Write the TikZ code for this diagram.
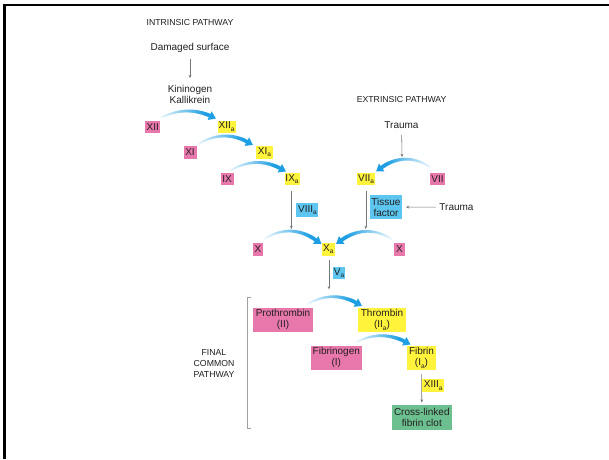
\documentclass[tikz,border=0pt]{standalone}
\usepackage{fontspec}
\setmainfont{Liberation Sans}
\usetikzlibrary{arrows.meta,calc}
\definecolor{pinkbox}{HTML}{E878AC}
\definecolor{yelbox}{HTML}{FFF33B}
\definecolor{bluebox}{HTML}{5CC6F0}
\definecolor{greenbox}{HTML}{6CC08F}
\definecolor{flowblue}{HTML}{1E9FE3}
\definecolor{txt}{HTML}{231F20}
\definecolor{thingray}{HTML}{777777}
\definecolor{brack}{HTML}{A0A0A0}
\newcommand\sba{\raisebox{-0.45ex}{\fontsize{6.5}{6}\selectfont a}}
\newcommand\flowarrow[3]{%
  \foreach \i in {0,...,19}{%
    \pgfmathsetmacro\ta{\i/20*0.84}%
    \pgfmathsetmacro\tb{(\i+1)/20*0.84}%
    \pgfmathsetmacro\ha{-4*\ta*(1-\ta)*#3}%
    \pgfmathsetmacro\hb{-4*\tb*(1-\tb)*#3}%
    \pgfmathsetmacro\cc{6+94*\tb/0.84}%
    \pgfmathsetmacro\lw{1.6+2.1*\tb/0.84}%
    \draw[line width=\lw pt, draw=flowblue!\cc!white, line cap=round]
      ($(#1)!\ta!(#2)+(0,\ha)$) -- ($(#1)!\tb!(#2)+(0,\hb)$);
  }%
  \pgfmathsetmacro\hc{-4*0.84*0.16*#3}%
  \draw[line width=3.7pt, flowblue, -{Triangle[length=7pt,width=9pt]}]
    ($(#1)!0.84!(#2)+(0,\hc)$) -- (#2);
}
\tikzset{
  fnt/.style={font=\fontsize{10}{11}\selectfont},
  capfnt/.style={font=\fontsize{8.7}{11}\selectfont},
  box/.style={fnt, inner sep=0pt, text=txt, align=center},
  pbox/.style={box, fill=pinkbox},
  ybox/.style={box, fill=yelbox},
  bbox/.style={box, fill=bluebox},
  gbox/.style={box, fill=greenbox},
  lbl/.style={fnt, inner sep=0pt, text=txt, align=center},
  caplbl/.style={capfnt, inner sep=0pt, text=txt, align=center},
  thinarrow/.style={draw=thingray, line width=0.55pt, -{Stealth[length=3.2pt,width=2.8pt]}},
}
\begin{document}
\begin{tikzpicture}[x=1pt,y=-1pt]
\useasboundingbox (0,0) rectangle (609,459);
\fill[white] (0,0) rectangle (609,459);
% frame
\draw[line width=2.2pt, black] (4.5,459) -- (4.5,5.3) -- (609,5.3);

% labels
\node[caplbl] (intr) at (190,22.7) {INTRINSIC PATHWAY};
\node[lbl] (dmg) at (190,48.3) {Damaged surface};
\node[lbl] (kin) at (190,94) {Kininogen\\Kallikrein};
\node[caplbl] (extr) at (401.6,99.3) {EXTRINSIC PATHWAY};
\node[lbl] (trA) at (401.5,125) {Trauma};
\node[lbl] (trB) at (456.5,207.3) {Trauma};
\node[caplbl] (fcp) at (214,363) {FINAL\\COMMON\\PATHWAY};

% intrinsic boxes
\node[pbox, minimum width=15pt, minimum height=12pt] (XII) at (152.7,126.7) {XII};
\node[ybox, minimum width=18pt, minimum height=12pt] (XIIa) at (226.6,126.7) {XII\sba};
\node[pbox, minimum width=13pt, minimum height=12.6pt] (XI) at (190,152.3) {XI};
\node[ybox, minimum width=16.6pt, minimum height=12.6pt] (XIa) at (264.5,152.3) {XI\sba};
\node[pbox, minimum width=13pt, minimum height=12.6pt] (IX) at (227,179) {IX};
\node[ybox, minimum width=15pt, minimum height=12.6pt] (IXa) at (292,179) {IX\sba};
\node[bbox, minimum width=22pt, minimum height=13.4pt] (VIIIa) at (307.4,210) {VIII\sba};

% extrinsic boxes
\node[ybox, minimum width=18pt, minimum height=12.6pt] (VIIa) at (366,179) {VII\sba};
\node[pbox, minimum width=14.7pt, minimum height=12.6pt] (VII) at (437.5,179) {VII};
\node[bbox, minimum width=32.6pt, minimum height=24.3pt] (TF) at (386,207) {Tissue\\factor};

% X row
\node[pbox, minimum width=10.3pt, minimum height=13pt] (Xl) at (258,249) {X};
\node[ybox, minimum width=13.4pt, minimum height=13pt] (Xa) at (328.3,249) {X\sba};
\node[pbox, minimum width=10.7pt, minimum height=13pt] (Xr) at (399.4,249) {X};
\node[bbox, minimum width=12.8pt, minimum height=12.3pt] (Va) at (339,273) {V\sba};

% common pathway
\node[pbox, minimum width=60pt, minimum height=24.3pt] (PT) at (283,319.8) {Prothrombin\\(II)};
\node[ybox, minimum width=48pt, minimum height=24.3pt] (TH) at (382,319.8) {Thrombin\\(II\sba)};
\node[pbox, minimum width=51.3pt, minimum height=24.3pt] (FG) at (336.3,357.8) {Fibrinogen\\(I)};
\node[ybox, minimum width=29pt, minimum height=24.3pt] (FB) at (421.5,357.8) {Fibrin\\(I\sba)};
\node[ybox, minimum width=21.5pt, minimum height=13.3pt] (XIIIa) at (433.2,385.7) {XIII\sba};
\node[gbox, minimum width=59.7pt, minimum height=25pt] (CL) at (421.8,417.5) {Cross-linked\\fibrin clot};

% bracket
\draw[draw=brack, line width=0.6pt] (250.8,297) -- (247,297) -- (247,428.3) -- (250.8,428.3);

% thin arrows
\coordinate (trAend) at (402,157);
\coordinate (IXaEnd) at (291.3,229);
\coordinate (VIIaEnd) at (365.8,229);
\coordinate (XaEnd) at (329,289.3);
\draw[thinarrow, shorten <=6pt, shorten >=6.5pt] (dmg) -- (kin);
\draw[thinarrow, shorten <=6.5pt] (trA) -- (trAend);
\draw[thinarrow, shorten <=3.5pt, shorten >=3.5pt] (trB) -- (TF);
\draw[thinarrow, shorten <=5.4pt] ($(IXa.south)+(-0.7,0)$) -- (IXaEnd);
\draw[thinarrow, shorten <=5.4pt] ($(VIIa.south)+(-0.2,0)$) -- (VIIaEnd);
\draw[thinarrow, shorten <=4.5pt] ($(Xa.south)+(0.7,0)$) -- (XaEnd);
\draw[thinarrow, shorten <=4pt, shorten >=2.3pt] (FB.south) -- (CL.north);

% blue activation arrows
\coordinate (f1a) at (161.5,117.5); \coordinate (f1b) at (216,118.5);
\coordinate (f2a) at (198.5,144);   \coordinate (f2b) at (253,145);
\coordinate (f3a) at (230.5,170.5); \coordinate (f3b) at (286,171.5);
\coordinate (f4a) at (430,167);     \coordinate (f4b) at (376,171.5);
\coordinate (f5a) at (265,238.5);   \coordinate (f5b) at (321.5,244);
\coordinate (f6a) at (391.5,239);   \coordinate (f6b) at (336,244);
\coordinate (f7a) at (308.5,303.5); \coordinate (f7b) at (362,306);
\coordinate (f8a) at (356.5,342);   \coordinate (f8b) at (410.5,344.5);
\flowarrow{f1a}{f1b}{7}
\flowarrow{f2a}{f2b}{8.5}
\flowarrow{f3a}{f3b}{8.5}
\flowarrow{f4a}{f4b}{10}
\flowarrow{f5a}{f5b}{10}
\flowarrow{f6a}{f6b}{10}
\flowarrow{f7a}{f7b}{8}
\flowarrow{f8a}{f8b}{7.5}
\end{tikzpicture}
\end{document}
